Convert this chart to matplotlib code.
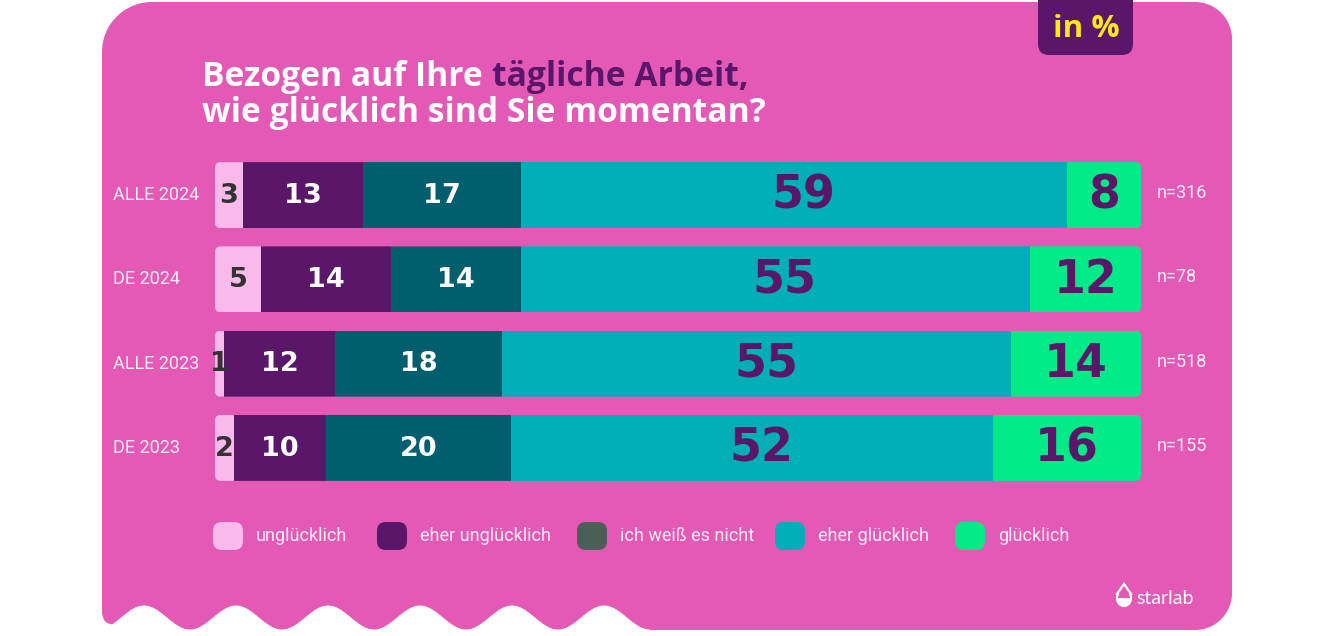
import numpy as np
import matplotlib
matplotlib.use("Agg")
import matplotlib.pyplot as plt
from matplotlib.patches import FancyBboxPatch, Polygon

# ---------------- data ----------------
categories = ["ALLE 2024", "DE 2024", "ALLE 2023", "DE 2023"]
sample_sizes = ["n=316", "n=78", "n=518", "n=155"]
answers = ["unglücklich", "eher unglücklich", "ich weiß es nicht", "eher glücklich", "glücklich"]
unglücklich = [3, 5, 1, 2]
eher_unglücklich = [13, 14, 12, 10]
weiss_nicht = [17, 14, 18, 20]
eher_glücklich = [59, 55, 55, 52]
glücklich = [8, 12, 14, 16]
series = [unglücklich, eher_unglücklich, weiss_nicht, eher_glücklich, glücklich]

# ---------------- style ----------------
PINK = "#E459B6"
bar_colors = ["#F9B9EA", "#5A1668", "#005E6E", "#00AEB8", "#00EA87"]
legend_colors = ["#F9B9EA", "#5A1668", "#4B5E57", "#00AEB8", "#00EA87"]
label_colors = ["#333333", "#FFFFFF", "#FFFFFF", "#5A1668", "#5A1668"]
label_sizes = [19.5, 19.5, 19.5, 33, 33]
label_shift = [0, 0, 0, 1.0, 0]
PURPLE = "#5A1668"
LIGHT = "#FDEEF8"
NUMFONT = "DejaVu Sans"
TITLEFONT = "Open Sans"
TEXTFONT = "Roboto"

W, H = 1320, 636
fig = plt.figure(figsize=(W / 100, H / 100), dpi=100)
fig.patch.set_facecolor("white")

# background axes in pixel coordinates
bg = fig.add_axes([0, 0, 1, 1])
bg.set_xlim(0, W)
bg.set_ylim(H, 0)
bg.axis("off")

# ----- card shape -----
pts = []
for t in np.linspace(np.pi, 1.5 * np.pi, 30):
    pts.append((152 + 50 * np.cos(t), 52 + 50 * np.sin(t)))
for t in np.linspace(1.5 * np.pi, 2 * np.pi, 30):
    pts.append((1195 + 37 * np.cos(t), 39 + 37 * np.sin(t)))
for t in np.linspace(0, 0.5 * np.pi, 30):
    pts.append((1195 + 37 * np.cos(t), 593 + 37 * np.sin(t)))
pts.append((650, 630))
for x in np.linspace(650, 112, 300):
    pts.append((x, 617.5 + 12 * np.cos(2 * np.pi * (x - 190) / 92)))
pts += [(107, 623), (104, 620), (102, 614)]
card = Polygon(pts, closed=True, facecolor=PINK, edgecolor="none", zorder=0)
bg.add_patch(card)

# ----- "in %" badge -----
badge = FancyBboxPatch((1038, -30), 95, 85, boxstyle="round,pad=0,rounding_size=11",
                       facecolor=PURPLE, edgecolor="none", zorder=1)
bg.add_patch(badge)
bg.text(1086, 29, "in %", color="#FFE81C", fontsize=22.5, fontweight="bold",
        family=TITLEFONT, ha="center", va="center", zorder=2)

# ----- title -----
renderer = fig.canvas.get_renderer()


def text_width(s, **kw):
    t = bg.text(0, 0, s, **kw)
    w = t.get_window_extent(renderer=renderer).width
    t.remove()
    return w


tkw = dict(fontsize=24.2, fontweight="bold", family=TITLEFONT, va="baseline")
x0 = 202
t1 = bg.text(x0, 86, "Bezogen auf Ihre", color="white", **tkw)
w1 = t1.get_window_extent(renderer=renderer).width
space = text_width("a a", **tkw) - text_width("aa", **tkw)
bg.text(x0 + w1 + space, 86, "tägliche Arbeit,", color=PURPLE, **tkw)
bg.text(x0, 122, "wie glücklich sind Sie momentan?", color="white", **tkw)

# ----- bars -----
top_px, row_px = 153, 84.25
n = len(categories)
ax = fig.add_axes([215 / W, 1 - (top_px + n * row_px) / H, 926 / W, n * row_px / H])
ax.set_xlim(0, 100)
ax.set_ylim(n - 0.5, -0.5)
ax.axis("off")
ax.patch.set_alpha(0)

bar_h = 66 / row_px
x_px = 926 / 100
aspect = (1 / row_px) / (1 / x_px)
ypos = np.arange(n)
left = np.zeros(n)
for k, vals in enumerate(series):
    vals = np.array(vals, dtype=float)
    bars = ax.barh(ypos, vals, left=left, height=bar_h, color=bar_colors[k],
                   edgecolor="none", zorder=2)
    for i, b in enumerate(bars):
        total = sum(s[i] for s in series)
        clip = FancyBboxPatch((0, i - bar_h / 2), total, bar_h,
                              boxstyle="round,pad=0,rounding_size=0.6",
                              mutation_aspect=aspect, transform=ax.transData)
        b.set_clip_path(clip)
        cx = left[i] + vals[i] / 2 + label_shift[k]
        ax.text(cx, i + 0.01, f"{int(vals[i])}", ha="center", va="center",
                color=label_colors[k], fontsize=label_sizes[k], fontweight="bold",
                family=NUMFONT, zorder=3)
    left += vals

# ----- row labels and n -----
for i, (c, s) in enumerate(zip(categories, sample_sizes)):
    yc = top_px + row_px * (i + 0.5)
    bg.text(113, yc, c, color=LIGHT, fontsize=13, family=TEXTFONT,
            ha="left", va="center")
    bg.text(1157, yc - 2, s, color=LIGHT, fontsize=13, family=TEXTFONT,
            ha="left", va="center")

# ----- legend -----
icon_x = [213, 377, 577, 775, 955]
for xi, lab, col in zip(icon_x, answers, legend_colors):
    ic = FancyBboxPatch((xi, 522), 30, 28, boxstyle="round,pad=0,rounding_size=9",
                        facecolor=col, edgecolor="none", zorder=2)
    bg.add_patch(ic)
    bg.text(xi + 43, 536, lab, color=LIGHT, fontsize=13, family=TEXTFONT,
            ha="left", va="center")

# ----- logo -----
bg.add_patch(Polygon([(1124, 584), (1131, 594)] +
                     [(1124 + 7 * np.cos(t), 598 + 8 * np.sin(t)) for t in np.linspace(-0.5, np.pi + 0.5, 30)] +
                     [(1117, 594)], closed=True, facecolor="none",
                     edgecolor="white", linewidth=1.6, zorder=3))
bg.add_patch(Polygon([(1124 + 7 * np.cos(t), 598 + 8 * np.sin(t)) for t in np.linspace(0, np.pi, 30)],
                     closed=True, facecolor="white", edgecolor="none", zorder=3))
bg.text(1136, 599, "starlab", color="white", fontsize=14, family="Lato",
        ha="left", va="center")

fig.savefig("out.png", dpi=100, facecolor="white")
